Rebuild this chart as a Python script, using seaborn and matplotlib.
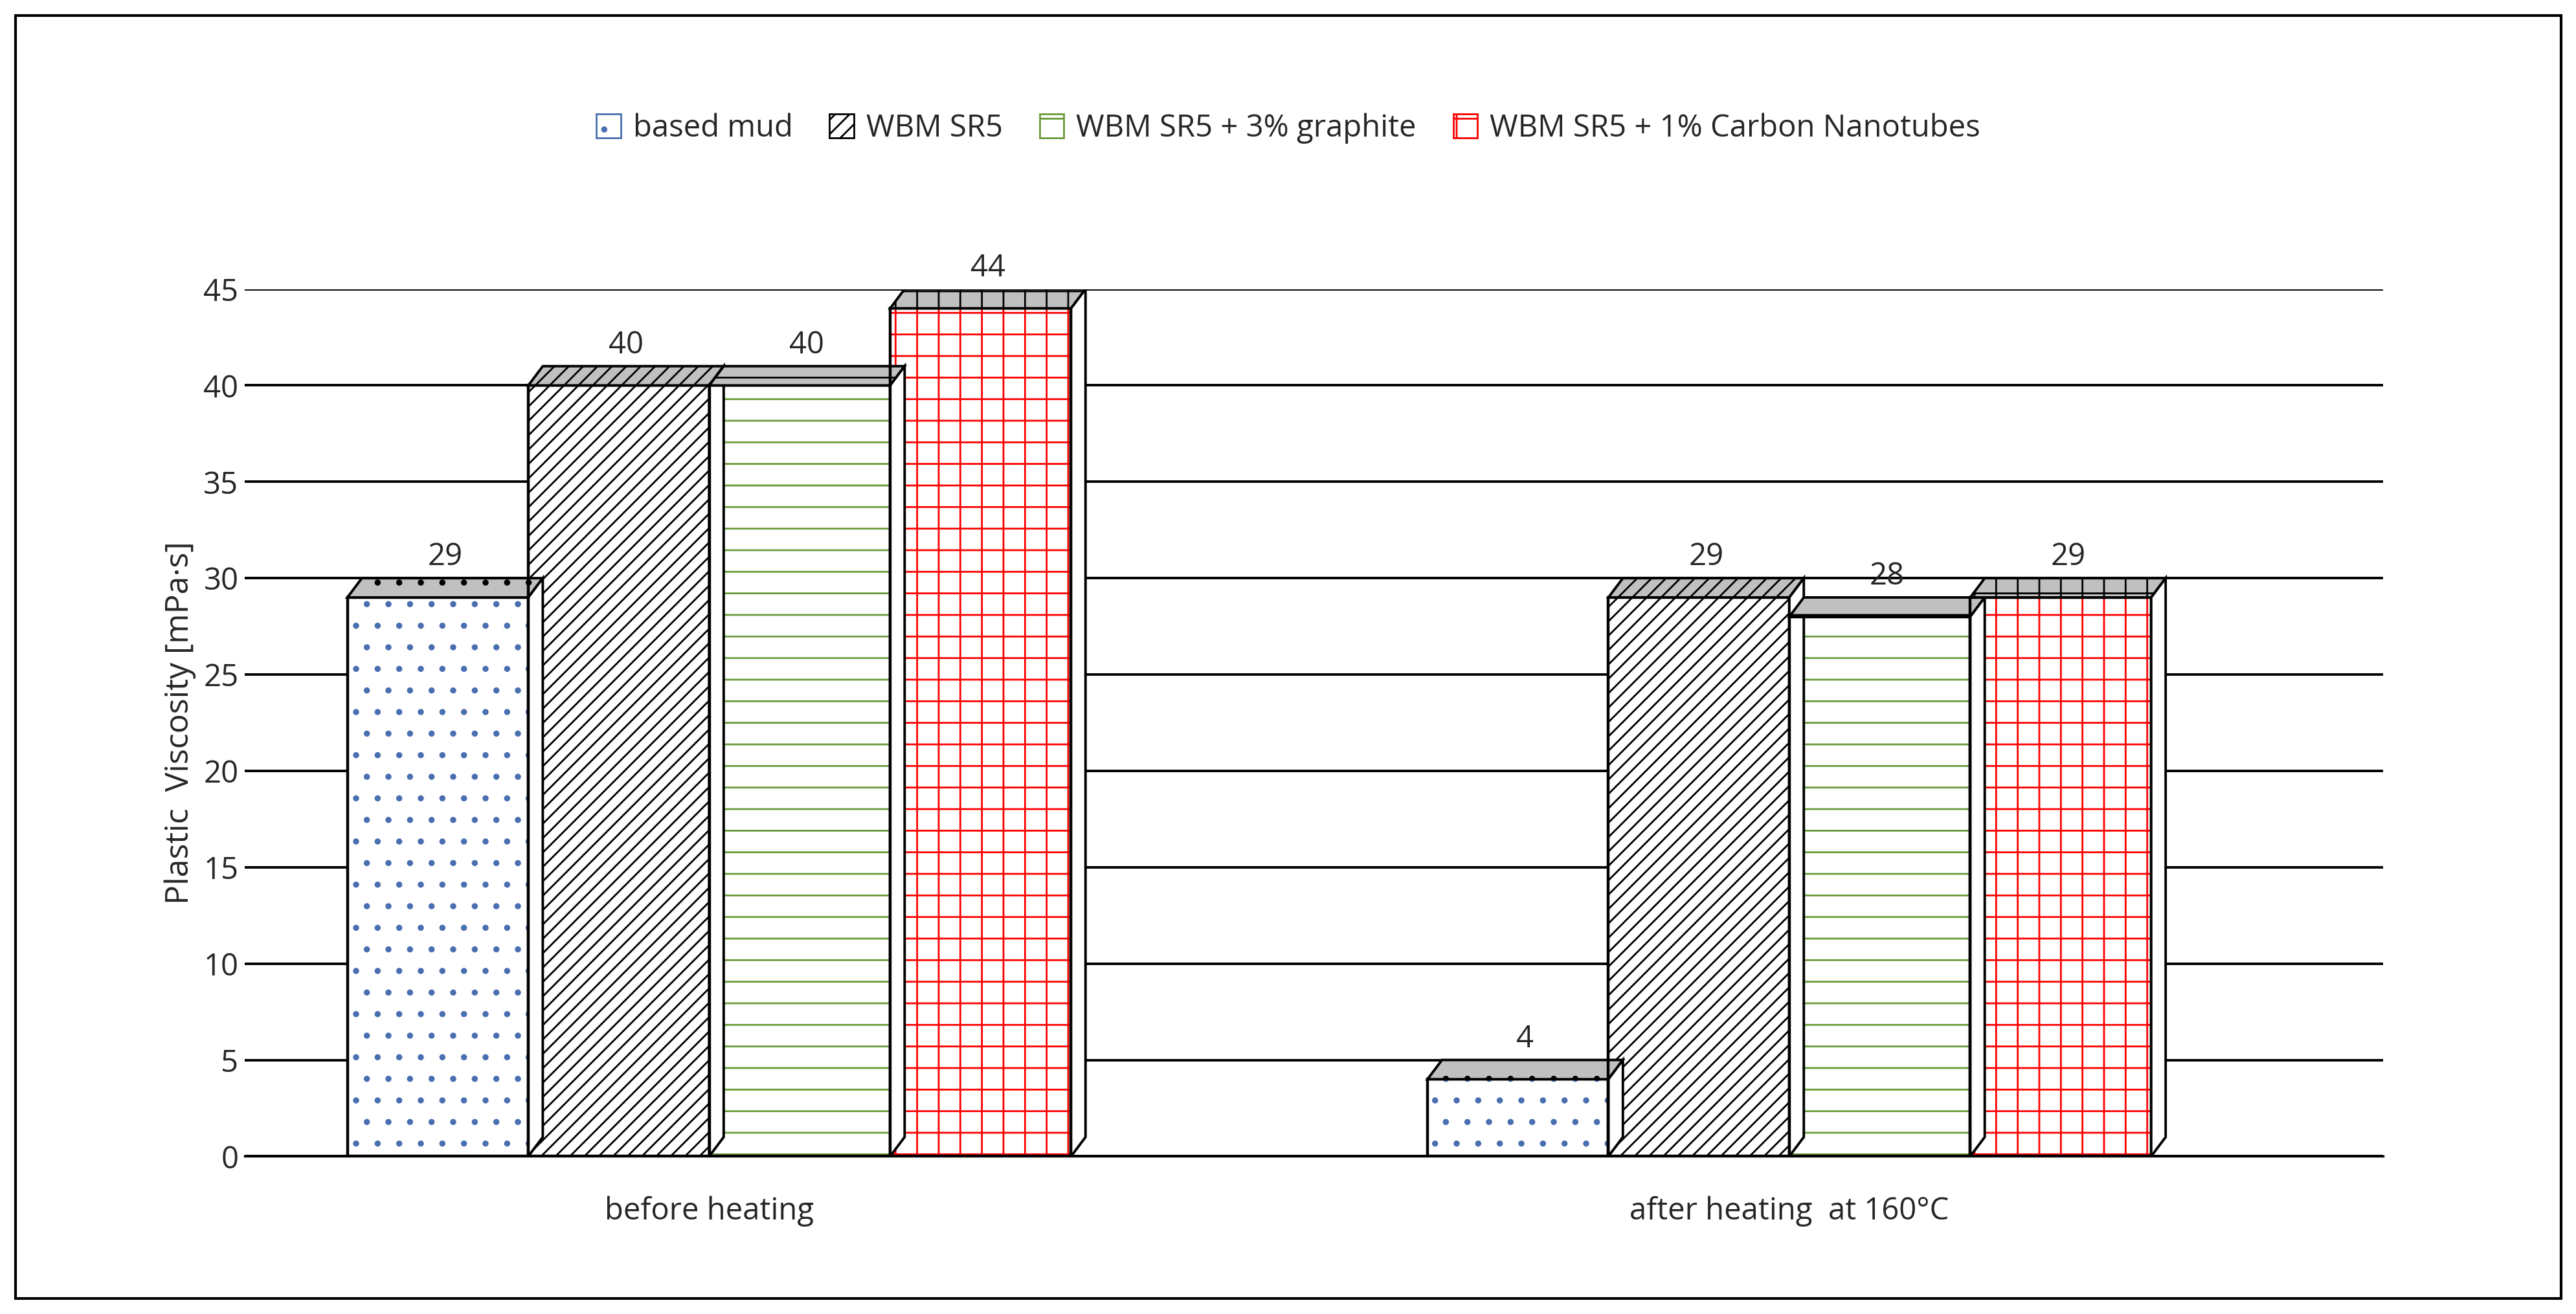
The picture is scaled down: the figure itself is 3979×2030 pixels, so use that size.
import matplotlib
matplotlib.use("Agg")
import matplotlib.pyplot as plt
import seaborn as sns
import pandas as pd
from matplotlib.patches import Rectangle, Polygon

conditions = ["before heating", "after heating  at 160°C"]
samples = ["based mud", "WBM SR5", "WBM SR5 + 3% graphite", "WBM SR5 + 1% Carbon Nanotubes"]
based_mud = [29, 4]
wbm_sr5 = [40, 29]
wbm_graphite = [40, 28]
wbm_cnt = [44, 29]

hatches = [".", "///", "-", "+"]
hatch_cols = ["#4a6fb0", "black", "#6a9a3a", "red"]

rows = []
for s, vals in zip(samples, [based_mud, wbm_sr5, wbm_graphite, wbm_cnt]):
    for c, v in zip(conditions, vals):
        rows.append({"condition": c, "sample": s, "value": v})
df = pd.DataFrame(rows)

sns.set_theme(style="white")
plt.rcParams['font.family'] = ['Open Sans', 'DejaVu Sans']

fig = plt.figure(figsize=(19.9, 10.15), dpi=200)
ax = fig.add_axes([0.095, 0.12, 0.83, 0.66])
sns.barplot(data=df, x="condition", y="value", hue="sample", palette=["white"] * 4,
            width=0.67, ax=ax, legend=False, saturation=1)

for i, bar in enumerate(ax.patches[:8]):
    k = i // 2
    bar.set_hatch(hatches[k])
    bar.set_edgecolor(hatch_cols[k])
    bar.set_linewidth(0)
    x, y = bar.get_x(), bar.get_height()
    w = bar.get_width()
    ax.add_patch(Rectangle((x, 0), w, y, fill=False, ec="black", lw=1.6, zorder=3))
    # faux 3D top
    dx, dy = w * 0.08, 1.0
    ax.add_patch(Polygon([(x, y), (x + dx, y + dy), (x + w + dx, y + dy), (x + w, y)],
                         closed=True, fc="#c0c0c0", ec="black", lw=1.4,
                         hatch=hatches[k], zorder=3))
    ax.add_patch(Polygon([(x + w, 0), (x + w + dx, dy), (x + w + dx, y + dy), (x + w, y)],
                         closed=True, fc="white", ec="black", lw=1.4, zorder=3))
    ax.text(x + w / 2 + dx / 2, y + dy + 0.3, f"{y:g}", ha="center", va="bottom",
            fontsize=17, zorder=4)

ax.set_ylim(0, 45)
ax.set_yticks(range(0, 46, 5))
ax.set_xlim(-0.43, 1.55)
ax.yaxis.grid(True, color="black", lw=1.4)
ax.set_axisbelow(True)
for s in ["top", "right", "left"]:
    ax.spines[s].set_visible(False)
ax.spines["bottom"].set_color("black")
ax.tick_params(axis="both", labelsize=17, length=0)
ax.tick_params(axis="x", pad=22)
ax.set_xlabel("")
ax.set_ylabel("Plastic  Viscosity [mPa·s]", fontsize=18)

handles = [Rectangle((0, 0), 1, 1, fc="white", ec=hatch_cols[k], hatch=hatches[k], lw=1)
           for k in range(4)]
fig.legend(handles, samples, loc="upper center", bbox_to_anchor=(0.5, 0.935), ncol=4,
           frameon=False, fontsize=17, handlelength=0.8, handleheight=0.8,
           columnspacing=1.2, handletextpad=0.4)

fig.patches.append(Rectangle((0.006, 0.012), 0.988, 0.976, transform=fig.transFigure,
                             fill=False, ec="black", lw=1.5))
fig.savefig("out.png", dpi=200)
